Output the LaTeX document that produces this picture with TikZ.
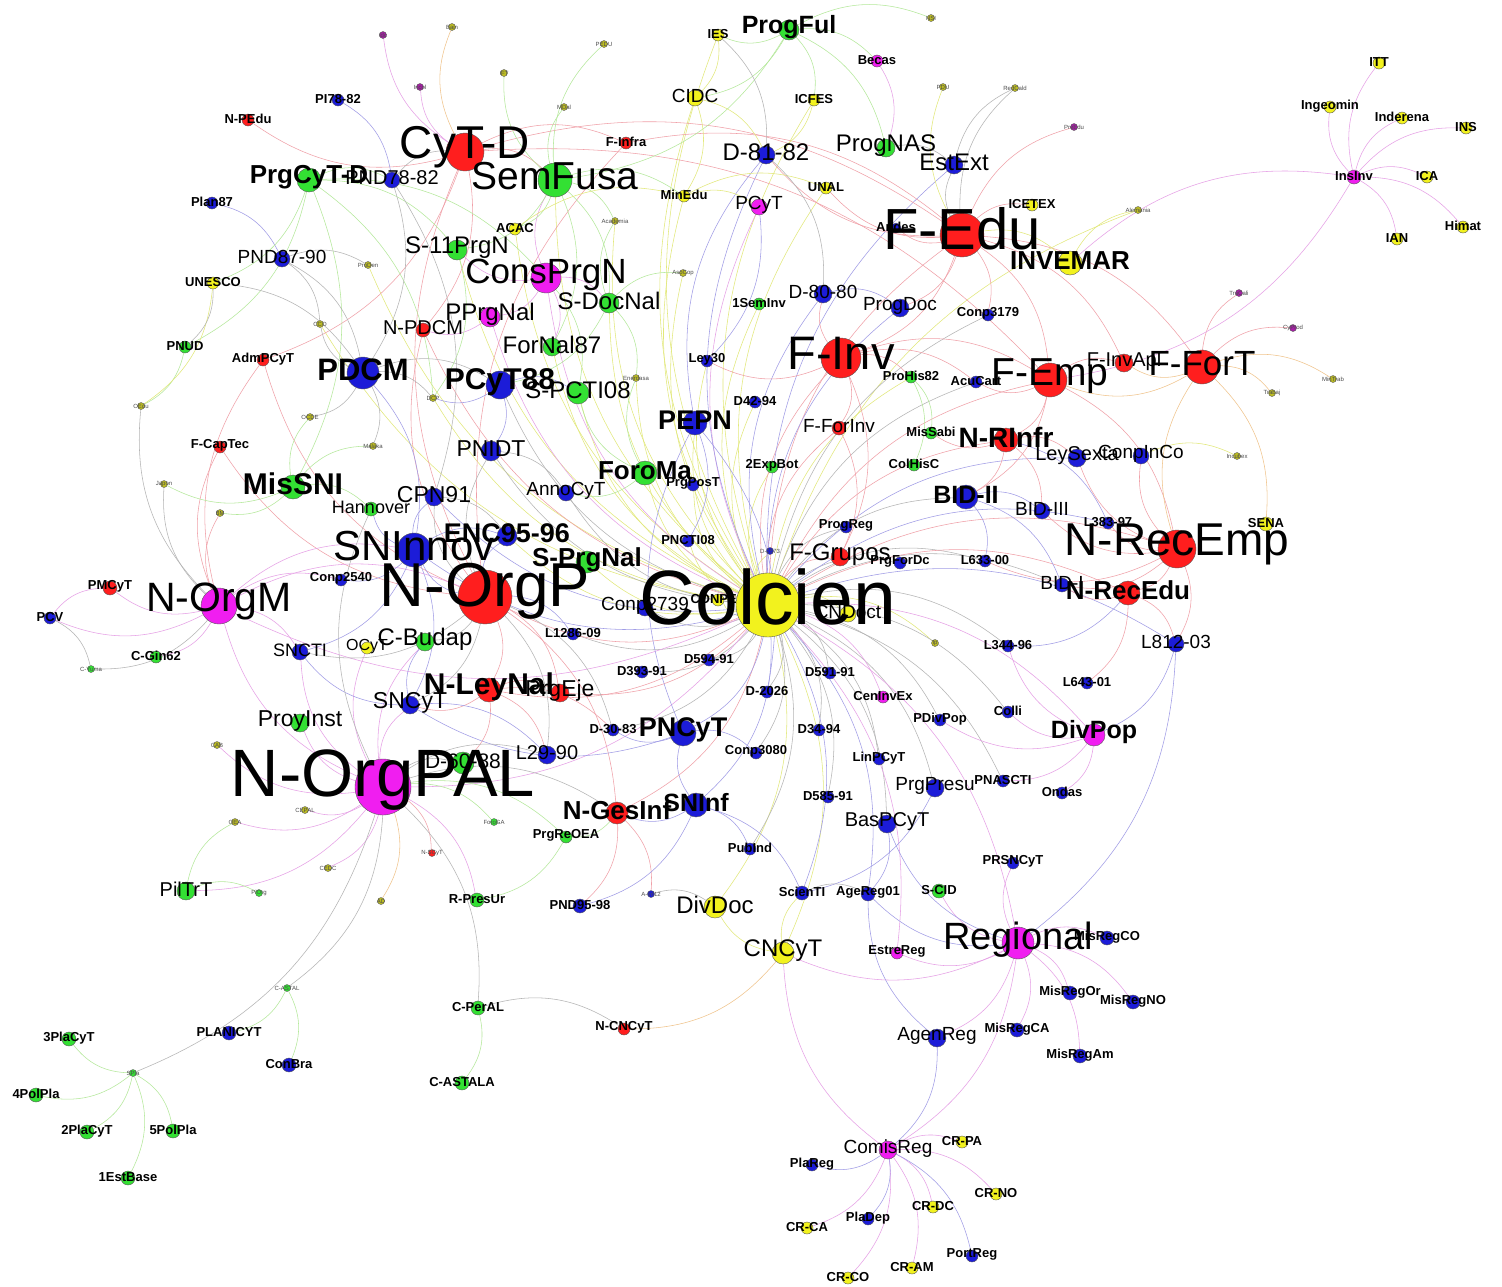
\documentclass[tikz,border=0pt]{standalone}
\usepackage{fontspec}
\setmainfont{Liberation Sans}
\usetikzlibrary{backgrounds}
\definecolor{nodeRed}{HTML}{FF1E1E}
\definecolor{nodeGrn}{HTML}{33E033}
\definecolor{nodeBlu}{HTML}{1C1CD8}
\definecolor{nodeYel}{HTML}{F2F21E}
\definecolor{nodeMag}{HTML}{F01EF0}
\definecolor{nodeOlv}{HTML}{BDBD22}
\definecolor{nodePur}{HTML}{A61EA6}
\definecolor{edgeYel}{HTML}{E2E87A}
\definecolor{edgeGrn}{HTML}{B4E89A}
\definecolor{edgeRed}{HTML}{F0A0A8}
\definecolor{edgeBlu}{HTML}{A09CE6}
\definecolor{edgeMag}{HTML}{E6A0E6}
\definecolor{edgeGry}{HTML}{B4B4B4}
\definecolor{edgeOrg}{HTML}{F0C48C}
\tikzset{
  nd/.style ={circle, draw=black!65, line width=0.4pt, inner sep=0pt, minimum size=#1},
  nR/.style ={nd=#1, fill=nodeRed},
  nG/.style ={nd=#1, fill=nodeGrn},
  nB/.style ={nd=#1, fill=nodeBlu},
  nY/.style ={nd=#1, fill=nodeYel},
  nM/.style ={nd=#1, fill=nodeMag},
  nO/.style ={nd=#1, fill=nodeOlv},
  nP/.style ={nd=#1, fill=nodePur},
  ml/.style 2 args={label={[font=\fontsize{#1}{#1}\selectfont, yshift=#1*0.1pt]center:#2}},
  bb/.style 2 args={label={[font=\fontsize{#1}{#1}\selectfont\bfseries, yshift=#1*0.1pt]center:#2}},
  sl/.style ={bb={13}{#1}},
  tl/.style ={label={[font=\fontsize{6}{6}\selectfont, text=black!70]center:#1}},
  ed/.style ={line width=0.55pt},
  eY/.style ={ed, draw=edgeYel},
  eG/.style ={ed, draw=edgeGrn},
  eR/.style ={ed, draw=edgeRed},
  eB/.style ={ed, draw=edgeBlu},
  eM/.style ={ed, draw=edgeMag},
  eK/.style ={ed, draw=edgeGry},
  eO/.style ={ed, draw=edgeOrg},
}
\begin{document}
\begin{tikzpicture}[x=1pt, y=-1pt]
  \useasboundingbox (0,0) rectangle (1502,1286);

  % tiny satellites
  \node[nP=7, tl=Idc] (idc) at (383,35) {};
  \node[nO=7, tl=Bain] (bain) at (452,27) {};
  \node[nP=7, tl=Incol] (incol) at (420,87) {};
  \node[nO=7, tl=PEDU] (pedu) at (604,44) {};
  \node[nO=7, tl=IFT] (ift) at (504,73) {};
  \node[nO=7, tl=MDal] (mdal) at (564,107) {};
  \node[nO=7, tl=NSI] (nsi) at (931,18) {};
  \node[nO=7, tl=PDU] (pdu) at (943,87) {};
  \node[nO=7, tl=RedCald] (redcald) at (1015,88) {};
  \node[nO=7, tl=Academia] (academia) at (615,221) {};
  \node[nO=7, tl=AsoCop] (asocop) at (683,273) {};
  \node[nO=7, tl=Enerdasa] (enerdasa) at (636,378) {};
  \node[nO=7, tl=ProDen] (proden) at (368,265) {};
  \node[nO=7, tl=CCO] (cco) at (320,324) {};
  \node[nO=7, tl=OEdu] (oedu) at (141,406) {};
  \node[nO=7, tl=OCDE] (ocde) at (310,417) {};
  \node[nO=7, tl=DCP] (dcp) at (433,398) {};
  \node[nO=7, tl=Malaka] (malaka) at (373,446) {};
  \node[nO=7, tl=Japon] (japon) at (164,484) {};
  \node[nO=7, tl=BM] (bm) at (220,513) {};
  \node[nP=7, tl=PreEdu] (preedu) at (1074,127) {};
  \node[nO=7, tl=Alemania] (alemania) at (1138,210) {};
  \node[nP=7, tl=TraCali] (tracali) at (1239,293) {};
  \node[nP=7, tl=CyProd] (cyprod) at (1293,328) {};
  \node[nO=7, tl=MinTrab] (mintrab) at (1333,379) {};
  \node[nO=7, tl=Trabaj] (trabaj) at (1272,393) {};
  \node[nO=7, tl=Incubex] (incubex) at (1237,456) {};
  \node[nO=7, tl=Ip] (ip) at (935,643) {};
  \node[nB=7, tl=D-2573] (d2573) at (770,551) {};
  \node[nO=7, tl=CAB] (cab) at (217,745) {};
  \node[nO=7, tl=CEPAL] (cepal) at (305,810) {};
  \node[nO=7, tl=OEA] (oea) at (235,822) {};
  \node[nG=7, tl=ForoGA] (forogaa) at (494,822) {};
  \node[nG=7, tl=C-Yuma] (cyuma) at (91,669) {};
  \node[nG=7, tl=PiOrg] (piorg) at (259,893) {};
  \node[nO=7, tl=CEDC] (cedc) at (328,868) {};
  \node[nR=7, tl=N-SCyT] (nscyt) at (432,853) {};
  \node[nO=7, tl=AD] (ad) at (381,901) {};
  \node[nB=7, tl=A-Inf12] (ainf) at (651,894) {};
  \node[nG=7, tl=SPla] (spla) at (133,1073) {};
  \node[nG=7, tl=C-ASTAL] (castal) at (287,988) {};

  % small nodes
  \node[nB=12, sl=PI78-82] (pi7882) at (338,100) {};
  \node[nR=12, sl=N-PEdu] (npedu) at (248,120) {};
  \node[nB=12, sl=Plan87] (plan87) at (212,203) {};
  \node[nY=12, sl=UNESCO] (unesco) at (213,283) {};
  \node[nG=12, sl=PNUD] (pnud) at (185,347) {};
  \node[nR=12, sl=AdmPCyT] (admpcyt) at (263,360) {};
  \node[nY=12, sl=IES] (ies) at (718,35) {};
  \node[nM=12, sl=Becas] (becas) at (877,61) {};
  \node[nY=12, sl=ICFES] (icfes) at (814,100) {};
  \node[nR=12, sl=F-Infra] (finfra) at (626,143) {};
  \node[nY=12, sl=MinEdu] (minedu) at (684,196) {};
  \node[nY=12, sl=UNAL] (unal) at (826,188) {};
  \node[nY=12, sl=ACAC] (acac) at (515,229) {};
  \node[nY=12, sl=ICETEX] (icetex) at (1032,205) {};
  \node[nB=10, sl=Andes] (andes) at (896,228) {};
  \node[nG=12, sl=1SemInv] (seminv) at (759,304) {};
  \node[nB=12, sl=Conp3179] (conp3179) at (988,315) {};
  \node[nB=12, sl=Ley30] (ley30) at (707,361) {};
  \node[nG=12, sl=ProHis82] (prohis82) at (911,377) {};
  \node[nB=12, sl=AcuCart] (acucart) at (976,382) {};
  \node[nB=12, sl=D42-94] (d4294) at (755,402) {};
  \node[nY=12, sl=ITT] (itt) at (1379,63) {};
  \node[nY=12, sl=Ingeomin] (ingeomin) at (1330,107) {};
  \node[nY=12, sl=Inderena] (inderena) at (1402,118) {};
  \node[nY=12, sl=INS] (ins) at (1466,128) {};
  \node[nM=14, sl=InsInv] (insinv) at (1354,177) {};
  \node[nY=12, sl=ICA] (ica) at (1427,177) {};
  \node[nY=12, sl=Himat] (himat) at (1463,227) {};
  \node[nY=12, sl=IAN] (ian) at (1397,239) {};
  \node[nR=12, sl=F-CapTec] (fcaptec) at (220,447) {};
  \node[nB=12, sl=Conp2540] (conp2540) at (341,580) {};
  \node[nR=14, sl=PMCyT] (pmcyt) at (110,588) {};
  \node[nB=12, sl=PCV] (pcv) at (50,618) {};
  \node[nG=12, sl=C-Gin62] (cgin62) at (156,657) {};
  \node[nY=12, ml={16}{OCyT}] (ocyt) at (367,648) {};
  \node[nB=12, sl=PrgPosT] (prgpost) at (693,485) {};
  \node[nG=12, sl=2ExpBot] (expbot) at (772,467) {};
  \node[nG=12, sl=MisSabi] (missabi) at (931,433) {};
  \node[nG=12, sl=ColHisC] (colhisc) at (914,465) {};
  \node[nB=12, sl=PNCTI08] (pncti08) at (688,541) {};
  \node[nB=12, sl=ProgReg] (progreg) at (846,527) {};
  \node[nB=12, sl=PrgForDc] (prgfordc) at (900,563) {};
  \node[nY=12, sl=CONPES] (conpes) at (718,600) {};
  \node[nB=12, sl=L1286-09] (l128609) at (573,634) {};
  \node[nB=12, sl=D594-91] (d59491) at (709,660) {};
  \node[nB=12, sl=D393-91] (d39391) at (642,672) {};
  \node[nB=12, sl=D591-91] (d59191) at (830,673) {};
  \node[nB=12, sl=D-2026] (d2026) at (767,692) {};
  \node[nM=12, sl=CenInvEx] (ceninvex) at (883,697) {};
  \node[nB=12, sl=PDivPop] (pdivpop) at (940,720) {};
  \node[nB=12, sl=Colli] (colli) at (1008,712) {};
  \node[nB=12, sl=D-30-83] (d3083) at (613,730) {};
  \node[nB=12, sl=D34-94] (d3494) at (819,730) {};
  \node[nB=12, sl=Conp3080] (conp3080) at (756,753) {};
  \node[nB=12, sl=LinPCyT] (linpcyt) at (879,759) {};
  \node[nB=12, sl=PNASCTI] (pnascti) at (1003,781) {};
  \node[nB=12, sl=Ondas] (ondas) at (1062,793) {};
  \node[nB=12, sl=D585-91] (d58591) at (828,797) {};
  \node[nG=12, sl=PrgReOEA] (prgreoea) at (566,837) {};
  \node[nB=12, sl=PubInd] (pubind) at (750,849) {};
  \node[nB=12, sl=PRSNCyT] (prsncyt) at (1013,863) {};
  \node[nB=12, sl=L383-97] (l38397) at (1108,523) {};
  \node[nY=14, sl=SENA] (sena) at (1266,524) {};
  \node[nB=12, sl=L633-00] (l63300) at (985,561) {};
  \node[nB=12, sl=L344-96] (l34496) at (1008,646) {};
  \node[nB=12, sl=L643-01] (l64301) at (1087,683) {};
  \node[nG=14, sl=R-PresUr] (rpresur) at (477,900) {};
  \node[nB=14, sl=PND95-98] (pnd9598) at (580,906) {};
  \node[nB=14, sl=ScienTI] (scienti) at (802,893) {};
  \node[nB=14, sl=AgeReg01] (agereg) at (868,894) {};
  \node[nG=14, sl=S-CID] (scid) at (939,891) {};
  \node[nM=12, sl=EstreReg] (estrereg) at (897,953) {};
  \node[nB=14, sl=MisRegCO] (misregco) at (1107,938) {};
  \node[nB=14, sl=MisRegOr] (misregor) at (1070,993) {};
  \node[nB=14, sl=MisRegNO] (misregno) at (1133,1002) {};
  \node[nB=14, sl=MisRegCA] (misregca) at (1017,1030) {};
  \node[nB=14, sl=MisRegAm] (misregam) at (1080,1056) {};
  \node[nR=12, sl=N-CNCyT] (ncncyt) at (624,1029) {};
  \node[nB=14, sl=PLANICYT] (planicyt) at (229,1033) {};
  \node[nB=14, sl=ConBra] (conbra) at (289,1065) {};
  \node[nG=14, sl=C-PerAL] (cperal) at (478,1008) {};
  \node[nG=14, sl=C-ASTALA] (castala) at (462,1083) {};
  \node[nG=14, sl=3PlaCyT] (plathree) at (69,1039) {};
  \node[nG=14, sl=4PolPla] (polfour) at (36,1095) {};
  \node[nG=14, sl=2PlaCyT] (platwo) at (87,1132) {};
  \node[nG=14, sl=5PolPla] (polfive) at (173,1131) {};
  \node[nG=14, sl=1EstBase] (estbase) at (128,1178) {};
  \node[nY=12, sl=CR-PA] (crpa) at (962,1142) {};
  \node[nB=12, sl=PlaReg] (plareg) at (812,1165) {};
  \node[nY=12, sl=CR-NO] (crno) at (996,1194) {};
  \node[nY=12, sl=CR-DC] (crdc) at (933,1207) {};
  \node[nB=12, sl=PlaDep] (pladep) at (868,1219) {};
  \node[nY=12, sl=CR-CA] (crca) at (807,1228) {};
  \node[nB=12, sl=PortReg] (portreg) at (972,1256) {};
  \node[nY=12, sl=CR-AM] (cram) at (912,1268) {};
  \node[nY=12, sl=CR-CO] (crco) at (848,1278) {};

  % medium nodes
  \node[nB=16, ml={20}{PND78-82}] (pnd7882) at (392,180) {};
  \node[nB=16, ml={19}{PND87-90}] (pnd8790) at (282,259) {};
  \node[nG=20, ml={24}{S-11PrgN}] (s11prgn) at (457,250) {};
  \node[nR=14, ml={20}{N-PDCM}] (npdcm) at (423,330) {};
  \node[nM=20, ml={24}{PPrgNal}] (pprgnal) at (490,317) {};
  \node[nY=16, ml={19}{CIDC}] (cidc) at (695,98) {};
  \node[nB=18, ml={24}{D-81-82}] (d8182) at (766,155) {};
  \node[nG=18, ml={24}{ProgNAS}] (prognas) at (886,148) {};
  \node[nB=18, ml={24}{EstExt}] (estext) at (954,165) {};
  \node[nM=16, ml={19}{PCyT}] (pcyt) at (759,207) {};
  \node[nB=18, ml={19}{D-80-80}] (d8080) at (823,294) {};
  \node[nB=18, ml={19}{ProgDoc}] (progdoc) at (900,308) {};
  \node[nG=20, ml={24}{S-DocNal}] (sdocnal) at (609,303) {};
  \node[nG=18, ml={24}{ForNal87}] (fornal87) at (552,347) {};
  \node[nG=22, ml={24}{S-PCTI08}] (spcti08) at (578,393) {};
  \node[nR=18, ml={20}{F-InvApl}] (finvapl) at (1124,363) {};
  \node[nG=14, ml={18}{Hannover}] (hannover) at (371,509) {};
  \node[nB=18, ml={23}{CPN91}] (cpn91) at (434,497) {};
  \node[nB=16, ml={18}{SNCTI}] (sncti) at (300,652) {};
  \node[nG=18, ml={24}{C-Budap}] (cbudap) at (425,642) {};
  \node[nB=18, ml={23}{SNCyT}] (sncyt) at (410,705) {};
  \node[nG=18, ml={23}{ProyInst}] (proyinst) at (300,723) {};
  \node[nB=20, ml={23}{PNIDT}] (pnidt) at (491,451) {};
  \node[nB=16, ml={19}{AnnoCyT}] (annocyt) at (566,493) {};
  \node[nR=14, ml={19}{F-ForInv}] (fforinv) at (839,428) {};
  \node[nR=18, ml={24}{F-Grupos}] (fgrupos) at (840,557) {};
  \node[nY=16, ml={19}{CNDoct}] (cndoct) at (848,614) {};
  \node[nB=16, ml={19}{Conp2739}] (conp2739) at (645,608) {};
  \node[nR=18, ml={23}{PrgEje}] (prgeje) at (560,693) {};
  \node[nB=18, ml={20}{L29-90}] (l2990) at (547,755) {};
  \node[nG=22, ml={21}{D-60-88}] (d6088) at (463,763) {};
  \node[nB=18, ml={19}{PrgPresu}] (prgpresu) at (935,788) {};
  \node[nB=18, ml={20}{BasPCyT}] (baspcyt) at (887,824) {};
  \node[nB=18, ml={20}{LeySexta}] (leysexta) at (1077,458) {};
  \node[nB=16, ml={19}{ConpInCo}] (conpinco) at (1141,456) {};
  \node[nB=16, ml={19}{BID-III}] (bidiii) at (1042,511) {};
  \node[nB=14, ml={19}{BID-I}] (bidi) at (1062,585) {};
  \node[nB=16, ml={19}{L812-03}] (l81203) at (1176,644) {};
  \node[nG=18, ml={20}{PilTrT}] (piltrt) at (186,891) {};
  \node[nY=22, ml={24}{DivDoc}] (divdoc) at (715,907) {};
  \node[nY=22, ml={24}{CNCyT}] (cncyt) at (783,953) {};
  \node[nB=18, ml={19}{AgenReg}] (agenreg) at (937,1038) {};
  \node[nM=18, ml={19}{ComisReg}] (comisreg) at (888,1150) {};

  % bold-labelled nodes
  \node[nG=24, bb={26}{PrgCyT-D}] (prgcytd) at (309,180) {};
  \node[nG=20, bb={25}{ProgFul}] (progful) at (789,30) {};
  \node[nY=24, bb={26}{INVEMAR}] (invemar) at (1070,263) {};
  \node[nG=24, bb={30}{MisSNI}] (misnsi) at (293,487) {};
  \node[nB=32, bb={31}{PDCM}] (pdcm) at (363,373) {};
  \node[nB=28, bb={30}{PCyT88}] (pcyt88) at (500,385) {};
  \node[nG=24, bb={26}{ForoMa}] (foroma) at (645,473) {};
  \node[nB=20, bb={27}{ENC95-96}] (enc9596) at (507,536) {};
  \node[nG=22, bb={26}{S-PrgNal}] (sprgnal) at (587,562) {};
  \node[nB=24, bb={27}{PEPN}] (pepn) at (695,423) {};
  \node[nR=24, bb={28}{N-RInfr}] (nrinfr) at (1006,440) {};
  \node[nB=24, bb={25}{BID-II}] (bidii) at (966,497) {};
  \node[nR=24, bb={30}{N-LeyNal}] (nleynal) at (489,690) {};
  \node[nB=26, bb={27}{PNCyT}] (pncyt) at (683,733) {};
  \node[nR=22, bb={26}{N-GesInf}] (ngesinf) at (617,813) {};
  \node[nB=24, bb={25}{SNInf}] (snif) at (696,805) {};
  \node[nM=22, bb={25}{DivPop}] (divpop) at (1094,735) {};
  \node[nR=24, bb={26}{N-RecEdu}] (nrecedu) at (1128,593) {};

  % hubs
  \node[nR=38, ml={46}{CyT-D}] (cytd) at (465,152) {};
  \node[nG=34, ml={39}{SemFusa}] (semfusa) at (555,180) {};
  \node[nM=30, ml={35}{ConsPrgN}] (consprgn) at (546,278) {};
  \node[nR=44, ml={58}{F-Edu}] (fedu) at (962,235) {};
  \node[nR=40, ml={47}{F-Inv}] (finv) at (841,358) {};
  \node[nR=34, ml={39}{F-Emp}] (femp) at (1050,380) {};
  \node[nR=34, ml={35}{F-ForT}] (fort) at (1202,367) {};
  \node[nB=34, ml={42}{SNInnov}] (snnov) at (414,550) {};
  \node[nM=36, ml={41}{N-OrgM}] (norgm) at (219,606) {};
  \node[nR=54, ml={62}{N-OrgP}] (norgp) at (485,597) {};
  \node[nM=56, ml={67}{N-OrgPAL}] (norgpal) at (383,787) {};
  \node[nR=38, ml={46}{N-RecEmp}] (nrecemp) at (1177,549) {};
  \node[nM=32, ml={38}{Regional}] (regional) at (1018,943) {};
  \node[nY=64, ml={77}{Colcien}] (colcien) at (768,605) {};

  \begin{scope}[on background layer]
    \fill[white] (0,0) rectangle (1502,1286);
    % links of the central hub
    \foreach \b in {conpes, cndoct, d2573, pncti08, prgpost, pepn, expbot, d4294, ley30, seminv, minedu, academia, asocop, cidc, ies, acac, spcti08, fornal87, sdocnal, s11prgn, semfusa, foroma, sprgnal, enc9596, dcp, proden, cco, divdoc, cncyt, icfes, unal, alemania, ip, enerdasa, prohis82}
      \draw[eY] (colcien) to[bend left=25] (\b);
    \foreach \b in {conp2739, l128609, d39391, d59491, d2026, d59191, d3494, conp3080, linpcyt, d58591, pdivpop, progreg, prgfordc, l63300, bidi, bidii, l34496, colli, pnascti, baspcyt, prgpresu, pubind, d3083, annocyt, pnidt, pcyt88, acucart, conp3179}
      \draw[eK] (colcien) to[bend left=25] (\b);
    \foreach \b in {norgp, finv, fforinv, fgrupos, fedu, femp, nrinfr, nrecemp, nrecedu, nleynal, prgeje, ngesinf, npdcm}
      \draw[eR] (colcien) to[bend left=25] (\b);
    \foreach \b in {norgpal, regional, ceninvex, divpop, pprgnal, consprgn, pcyt, norgm, estrereg}
      \draw[eM] (colcien) to[bend left=25] (\b);
    \foreach \b in {pncyt, snif, snnov, cpn91, d8080, progdoc, d8182, estext, l81203, leysexta, l38397, scienti, agereg}
      \draw[eB] (colcien) to[bend left=25] (\b);

    % other links
    \foreach \a/\b in {norgp/nleynal, norgp/npdcm, norgp/cytd, norgp/finfra, norgp/ngesinf, norgp/prgeje, norgp/admpcyt, norgp/fcaptec, cytd/finfra, cytd/semfusa, cytd/admpcyt, cytd/fedu, cytd/npedu, cytd/npdcm, cytd/femp, finfra/fedu, fedu/icetex, fedu/andes, fedu/preedu, fedu/unal, fedu/finv, fedu/femp, fedu/fort, fedu/finvapl, fedu/conp3179, fedu/progdoc, fedu/d8182, femp/finvapl, femp/nrinfr, femp/acucart, femp/nrecemp, femp/bidii, finv/d8080, finv/prohis82, finv/fforinv, finv/acucart, finv/ley30, finv/femp, finv/fgrupos, fforinv/fgrupos, fort/tracali, fort/cyprod, nrinfr/leysexta, nrinfr/bidii, nrinfr/bidiii, nrinfr/missabi, nrecemp/nrecedu, nrecemp/l38397, nrecemp/conpinco, nrecemp/bidi, nrecemp/l81203, nrecemp/bidiii, nrecemp/leysexta, nrecemp/l63300, nrecedu/l81203, nrecedu/l64301, nrecedu/bidi, nleynal/prgeje, nleynal/l2990, nleynal/d6088, nleynal/d3083, nleynal/sncyt, ngesinf/ainf, ngesinf/pnd9598, norgm/fcaptec, norgm/bm, norgm/admpcyt, norgpal/nscyt}
      \draw[eR] (\a) to[bend left=25] (\b);
    \foreach \a/\b in {cytd/bain, fort/trabaj, fort/mintrab, fort/sena, fort/femp, fort/finvapl, nrecemp/fort, cncyt/ncncyt, norgpal/ad}
      \draw[eO] (\a) to[bend left=25] (\b);
    \foreach \a/\b in {norgpal/proyinst, norgpal/cab, norgpal/cepal, norgpal/oea, norgpal/piltrt, norgpal/cedc, norgpal/cbudap, norgpal/sncyt, norgpal/ocyt, norgpal/norgm, norgpal/sncti, norgpal/rpresur, norgm/pmcyt, norgm/pcv, norgm/cgin62, norgm/sncti, norgm/conp2540, norgm/snnov, norgm/norgp, pcv/pmcyt, cytd/idc, cytd/incol, consprgn/pprgnal, consprgn/s11prgn, consprgn/sdocnal, consprgn/semfusa, consprgn/fornal87, becas/prognas, invemar/insinv, insinv/itt, insinv/ingeomin, insinv/inderena, insinv/ins, insinv/ica, insinv/himat, insinv/ian, insinv/femp, divpop/ondas, divpop/pnascti, divpop/colli, divpop/pdivpop, divpop/l34496, regional/misregco, regional/misregor, regional/misregno, regional/misregca, regional/misregam, regional/prsncyt, regional/estrereg, regional/agenreg, regional/cncyt, regional/comisreg, regional/scid, comisreg/crpa, comisreg/crno, comisreg/crdc, comisreg/crca, comisreg/cram, comisreg/crco, comisreg/cncyt, pprgnal/npdcm}
      \draw[eM] (\a) to[bend left=25] (\b);
    \foreach \a/\b in {plan87/pnd8790, pi7882/pnd7882, pncyt/d3083, pncyt/conp3080, pncyt/sncyt, pncyt/pepn, pepn/d8182, pepn/pncti08, pepn/d2026, pcyt88/pnidt, pcyt88/dcp, pcyt88/spcti08, snnov/cpn91, snnov/hannover, snnov/enc9596, snnov/sncyt, snnov/sncti, snnov/conp2540, sncyt/sncti, sncyt/l2990, sncyt/cbudap, snif/pubind, snif/pnd9598, snif/scienti, snif/ngesinf, snif/pncyt, l81203/regional, l81203/divpop, bidii/bidiii, bidii/bidi, bidii/l63300, agenreg/agereg, agenreg/comisreg, comisreg/plareg, comisreg/pladep, comisreg/portreg, regional/agereg, regional/baspcyt, pcyt/ley30, d8080/progdoc, pdcm/snnov, norgp/snnov, norgp/enc9596, norgp/l128609, nrinfr/l38397, nrecedu/l34496, baspcyt/agereg, prgpresu/scienti}
      \draw[eB] (\a) to[bend left=25] (\b);
    \foreach \a/\b in {spla/plathree, spla/polfour, spla/platwo, spla/polfive, spla/estbase, castal/planicyt, castal/conbra, cperal/castala, piltrt/oea, piltrt/piorg, prgreoea/rpresur, misnsi/japon, misnsi/malaka, misnsi/ocde, misnsi/hannover, misnsi/bm, prgcytd/misnsi, prgcytd/pnud, prgcytd/pnd7882, prgcytd/unesco, prgcytd/s11prgn, prgcytd/dcp, prgcytd/consprgn, semfusa/mdal, semfusa/pedu, semfusa/ift, semfusa/s11prgn, semfusa/sdocnal, semfusa/acac, semfusa/fornal87, semfusa/academia, semfusa/minedu, sdocnal/academia, sdocnal/asocop, sdocnal/enerdasa, sdocnal/pcyt88, progful/ies, progful/becas, progful/cidc, progful/icfes, progful/nsi, progful/prognas, progful/semfusa, foroma/annocyt, foroma/spcti08, foroma/enerdasa, prohis82/colhisc, prohis82/missabi, pnud/oedu, norgpal/prgreoea, consprgn/spcti08, ngesinf/prgreoea, s11prgn/dcp, norgpal/forogaa}
      \draw[eG] (\a) to[bend left=25] (\b);
    \foreach \a/\b in {invemar/alemania, conpinco/incubex, ies/cidc, cidc/minedu, cidc/d8182, icfes/d8182, minedu/unal, minedu/pcyt, cncyt/divdoc, cncyt/scienti, unesco/oedu, fedu/invemar, fedu/pdu, acac/minedu}
      \draw[eY] (\a) to[bend left=25] (\b);
    \foreach \a/\b in {pnd8790/proden, pnd8790/pdcm, pnd8790/cco, unesco/pdcm, unesco/pnud, pnd7882/cytd, pnd7882/pdcm, pnd7882/cpn91, pdcm/dcp, pdcm/ocde, pdcm/malaka, pdcm/cco, pdcm/pcyt88, norgp/cbudap, norgp/sncti, norgp/sncyt, norgp/l2990, norgp/d3083, norgp/pnidt, norgp/cpn91, norgpal/spla, norgpal/castal, norgpal/cperal, norgpal/d6088, norgpal/l2990, norgpal/ngesinf, norgpal/hannover, pcv/cyuma, norgm/cyuma, norgm/oedu, norgm/japon, ies/d8182, estext/redcald, prognas/estext, fedu/estext, fedu/redcald, cperal/ncncyt, ainf/divdoc, scienti/agereg, d8182/d8080, pnidt/annocyt, cpn91/enc9596}
      \draw[eK] (\a) to[bend left=25] (\b);
  \end{scope}
\end{tikzpicture}
\end{document}
